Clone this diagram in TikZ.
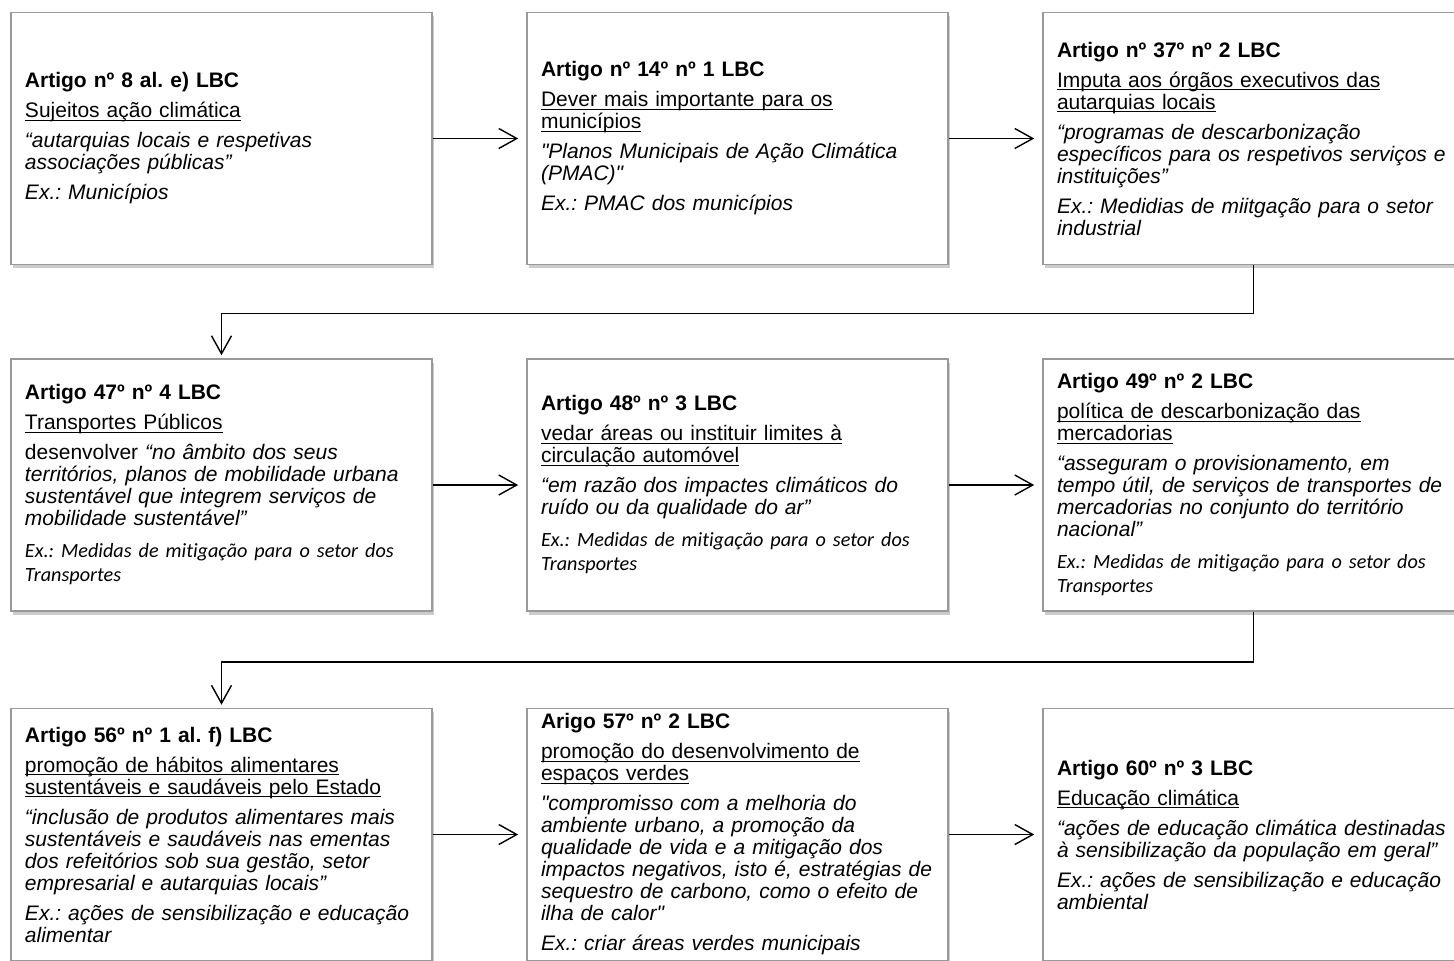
\documentclass[tikz,border=0pt]{standalone}
\usepackage{fontspec}
\setmainfont{Liberation Sans}
\newfontfamily\calfont[Ligatures=NoCommon]{Carlito}
\usetikzlibrary{arrows.meta,shadows}
\frenchspacing
\newcommand\subl[1]{\underline{\smash{#1}}}
\newcommand\exc[1]{{\calfont\itshape\fontsize{10.1}{11}\selectfont #1}}
\newcommand\sq{\textquotedbl}
\tikzset{
    artbox/.style={draw=black!40,line width=.8pt,fill=white,
        drop shadow={shadow xshift=.8pt,shadow yshift=-1.8pt,opacity=.4,fill=black!50},
        text width=196.5pt,inner xsep=7pt,inner ysep=0pt,minimum height=126pt,
        align=left,font=\fontsize{10.5}{11}\selectfont},
    link/.style={->,line width=.7pt,shorten >=4pt}
}
\begin{document}
\begin{tikzpicture}[>={Straight Barb[length=9pt,width=10pt]},x=0.5pt,y=-0.5pt]
    \useasboundingbox (0,0) rectangle (1454,960);
    \node[artbox] (art8) at (221.5,138.5) {\textbf{Artigo nº 8 al. e) LBC}\\[4pt]
        \subl{Sujeitos ação climática}\\[4pt]
        {\itshape “autarquias locais e respetivas\\
        associações públicas”}\\[4pt]
        {\itshape Ex.: Municípios}};
    \node[artbox] (art14) at (737.5,138.5) {\textbf{Artigo nº 14º nº 1 LBC}\\[4pt]
        \subl{Dever mais importante para os}\\
        \subl{municípios}\\[4pt]
        {\itshape \sq Planos Municipais de Ação Climática\\
        (PMAC)\sq}\\[4pt]
        {\itshape Ex.: PMAC dos municípios}};
    \node[artbox] (art37) at (1253.5,138.5) {\textbf{Artigo nº 37º nº 2 LBC}\\[4pt]
        \subl{Imputa aos órgãos executivos das}\\
        \subl{autarquias locais}\\[4pt]
        {\itshape “programas de descarbonização\\
        específicos para os respetivos serviços e\\
        instituições”}\\[4pt]
        {\itshape Ex.: Medidias de miitgação para o setor\\
        industrial}};
    \node[artbox] (art47) at (221.5,485) {\textbf{Artigo 47º nº 4 LBC}\\[4pt]
        \subl{Transportes Públicos}\\[4pt]
        desenvolver {\itshape “no âmbito dos seus\\
        territórios, planos de mobilidade urbana\\
        sustentável que integrem serviços de\\
        mobilidade sustentável”}\\[5pt]
        \exc{Ex.: Medidas de mitigação para o setor dos}\\[1pt]
        \exc{Transportes}};
    \node[artbox] (art48) at (737.5,485) {\textbf{Artigo 48º nº 3 LBC}\\[4pt]
        \subl{vedar áreas ou instituir limites à}\\
        \subl{circulação automóvel}\\[4pt]
        {\itshape “em razão dos impactes climáticos do\\
        ruído ou da qualidade do ar”}\\[5pt]
        \exc{Ex.: Medidas de mitigação para o setor dos}\\[1pt]
        \exc{Transportes}};
    \node[artbox] (art49) at (1253.5,485) {\textbf{Artigo 49º nº 2 LBC}\\[4pt]
        \subl{política de descarbonização das}\\
        \subl{mercadorias}\\[4pt]
        {\itshape “asseguram o provisionamento, em\\
        tempo útil, de serviços de transportes de\\
        mercadorias no conjunto do território\\
        nacional”}\\[5pt]
        \exc{Ex.: Medidas de mitigação para o setor dos}\\[1pt]
        \exc{Transportes}};
    \node[artbox] (art56) at (221.5,834.5) {\textbf{Artigo 56º nº 1 al. f) LBC}\\[4pt]
        \subl{promoção de hábitos alimentares}\\
        \subl{sustentáveis e saudáveis pelo Estado}\\[4pt]
        {\itshape “inclusão de produtos alimentares mais\\
        sustentáveis e saudáveis nas ementas\\
        dos refeitórios sob sua gestão, setor\\
        empresarial e autarquias locais”}\\[4pt]
        {\itshape Ex.: ações de sensibilização e educação\\
        alimentar}};
    \node[artbox] (art57) at (737.5,834.5) {\textbf{Arigo 57º nº 2 LBC}\\[4pt]
        \subl{promoção do desenvolvimento de}\\
        \subl{espaços verdes}\\[4pt]
        {\itshape \sq compromisso com a melhoria do\\
        ambiente urbano, a promoção da\\
        qualidade de vida e a mitigação dos\\
        impactos negativos, isto é, estratégias de\\
        sequestro de carbono, como o efeito de\\
        ilha de calor\sq}\\[4pt]
        {\itshape Ex.: criar áreas verdes municipais}};
    \node[artbox] (art60) at (1253.5,834.5) {\textbf{Artigo 60º nº 3 LBC}\\[4pt]
        \subl{Educação climática}\\[4pt]
        {\itshape “ações de educação climática destinadas\\
        à sensibilização da população em geral”}\\[4pt]
        {\itshape Ex.: ações de sensibilização e educação\\
        ambiental}};
    \foreach \p/\q in {art8/art14,art14/art37,art47/art48,art48/art49,art56/art57,art57/art60}
    {
        \draw[link] (\p) -- (\q);
    }
    \draw[link,shorten >=1.5pt] (art37.south) -- ++(0,-24pt) -| (art47.north);
    \draw[link,shorten >=1.5pt] (art49.south) -- ++(0,-25pt) -| (art56.north);
\end{tikzpicture}
\end{document}
